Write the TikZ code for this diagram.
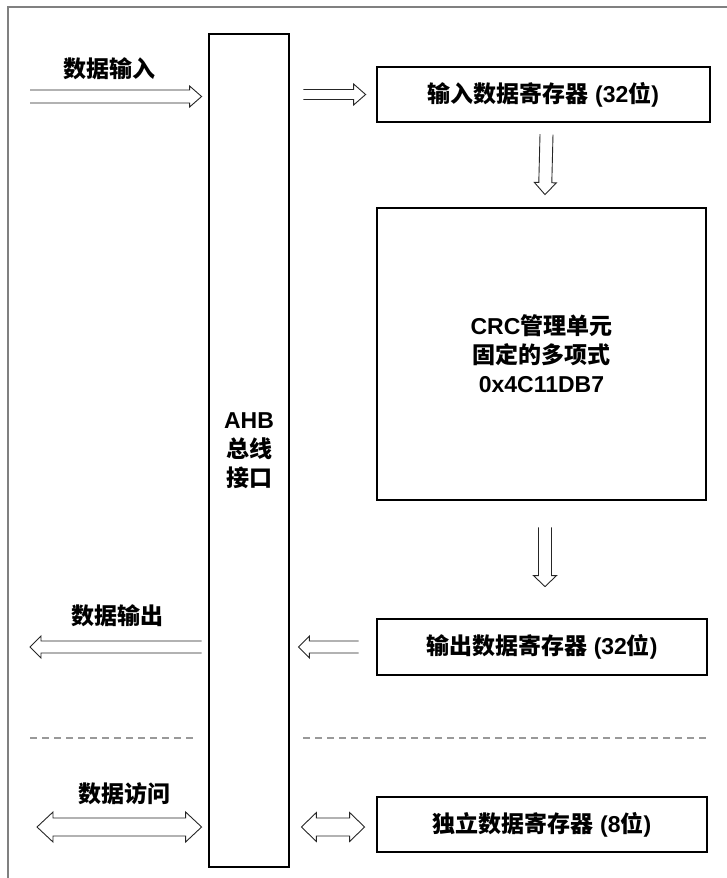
\documentclass[tikz,border=0pt]{standalone}
\usepackage{fontspec}
\setmainfont{Liberation Sans}
\newfontfamily\cjk{Noto Sans CJK SC}
\usepackage{tikz}
\usetikzlibrary{calc}

\newcommand{\zh}[1]{{\cjk #1}}

\tikzset{
  block/.style={draw, line width=2.8pt, inner sep=0pt, align=center},
  label/.style={inner sep=0pt, align=center},
  % hollow arrow: half shaft, half head, head length
  harrow/.style n args={3}{draw=black!85, line width=0.9pt, line join=miter,
    to path={($(\tikztostart)!#1!90:(\tikztotarget)$)
      -- ($(\tikztotarget)!#3!(\tikztostart)!#1!-90:(\tikztostart)$)
      -- ($(\tikztotarget)!#3!(\tikztostart)!#2!-90:(\tikztostart)$)
      -- (\tikztotarget)
      -- ($(\tikztotarget)!#3!(\tikztostart)!#2!90:(\tikztostart)$)
      -- ($(\tikztotarget)!#3!(\tikztostart)!#1!90:(\tikztostart)$)
      -- ($(\tikztostart)!#1!-90:(\tikztotarget)$)}},
  % hollow double arrow
  hdarrow/.style n args={3}{draw=black!85, line width=0.9pt, line join=miter,
    to path={($(\tikztostart)!#3!(\tikztotarget)!#1!90:(\tikztotarget)$)
      -- ($(\tikztotarget)!#3!(\tikztostart)!#1!-90:(\tikztostart)$)
      -- ($(\tikztotarget)!#3!(\tikztostart)!#2!-90:(\tikztostart)$)
      -- (\tikztotarget)
      -- ($(\tikztotarget)!#3!(\tikztostart)!#2!90:(\tikztostart)$)
      -- ($(\tikztotarget)!#3!(\tikztostart)!#1!90:(\tikztostart)$)
      -- ($(\tikztostart)!#3!(\tikztotarget)!#1!-90:(\tikztotarget)$)
      -- ($(\tikztostart)!#3!(\tikztotarget)!#2!-90:(\tikztotarget)$)
      -- (\tikztostart)
      -- ($(\tikztostart)!#3!(\tikztotarget)!#2!90:(\tikztotarget)$)
      -- cycle}},
  frameline/.style={draw=black!50, line width=1.5pt},
  sepline/.style={draw=black!40, line width=1.2pt, dash pattern=on 7pt off 5pt}
}

\begin{document}
\begin{tikzpicture}[x=1pt, y=-1pt,
  every node/.style={font=\fontsize{23}{29}\selectfont\bfseries}]
  \useasboundingbox (0,0) rectangle (727,878);

  % frame
  \draw[frameline] (8,878) -- (8,7) -- (727,7);

  % blocks
  \node[block, minimum width=80pt, minimum height=833pt] (bus) at (249,450.5)
    {AHB\\\zh{总线}\\\zh{接口}};
  \node[block, minimum width=333pt, minimum height=55pt] (inreg) at (543.5,94.5)
    {\zh{输入数据寄存器} (32\zh{位})};
  \node[block, minimum width=329pt, minimum height=292pt] (crc) at (541.5,354)
    {CRC\zh{管理单元}\\\zh{固定的多项式}\\0x4C11DB7};
  \node[block, minimum width=330pt, minimum height=56pt] (outreg) at (542,647)
    {\zh{输出数据寄存器} (32\zh{位})};
  \node[block, minimum width=330pt, minimum height=55pt] (indreg) at (542,824.5)
    {\zh{独立数据寄存器} (8\zh{位})};

  % free ends
  \coordinate (inL) at (30,96.5);
  \coordinate (outL) at (30,647);
  \coordinate (accL) at (37,827);

  % labels
  \node[label] (inlab) at (109,69) {\zh{数据输入}};
  \node[label] (outlab) at (117,616) {\zh{数据输出}};
  \node[label] (acclab) at (124,794) {\zh{数据访问}};

  % data path
  \draw[harrow={6.5pt}{10.5pt}{12pt}] (inL) to ([xshift=-6pt]bus.west |- inL);
  \draw[harrow={5pt}{10.5pt}{12pt}] ([xshift=13pt]bus.east |- inreg.west) to ([xshift=-10pt]inreg.west);
  \draw[harrow={6.5pt}{11pt}{12pt}] ([xshift=3pt,yshift=-11pt]inreg.south) to ([xshift=3.5pt,yshift=12pt]crc.north);
  \draw[harrow={6.5pt}{11.5pt}{11pt}] ([xshift=3.5pt,yshift=-26pt]crc.south) to ([xshift=3pt,yshift=31pt]outreg.north);
  \draw[harrow={6pt}{11pt}{11pt}] ([xshift=-17pt]outreg.west) to ([xshift=8pt]bus.east |- outreg.west);
  \draw[harrow={6pt}{11pt}{11pt}] ([xshift=-6pt]bus.west |- outL) to (outL);
  \draw[hdarrow={9pt}{15pt}{16pt}] (accL) to ([xshift=-6pt]bus.west |- accL);
  \draw[hdarrow={9pt}{14.5pt}{15pt}] ([xshift=11pt,yshift=-2.5pt]bus.east |- indreg.west) to ([xshift=-11pt,yshift=-2.5pt]indreg.west);

  % separators
  \draw[sepline] (30,738) -- (193,738);
  \draw[sepline] (303,738) -- (707,738);
\end{tikzpicture}
\end{document}
